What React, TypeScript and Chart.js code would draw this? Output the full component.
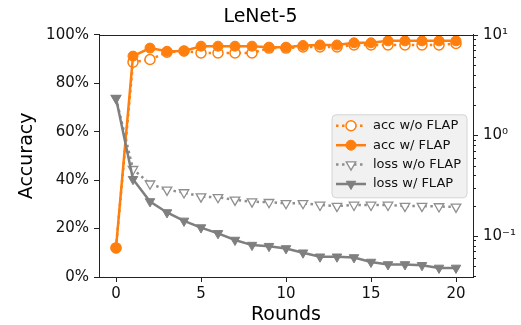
import React, { useEffect, useRef } from 'react';
import { Chart, registerables } from 'chart.js';

Chart.register(...registerables);

const rounds = [0, 1, 2, 3, 4, 5, 6, 7, 8, 9, 10, 11, 12, 13, 14, 15, 16, 17, 18, 19, 20];
const accWithoutFlap = [12, 88.7, 89.8, 92.8, 93.3, 92.5, 92.5, 92.5, 92.5, 94.5, 94.5, 95.0, 95.0, 95.0, 95.8, 95.8, 95.8, 95.8, 95.8, 95.8, 96.4];
const accWithFlap = [12, 91.2, 94.5, 93.2, 93.3, 95.3, 95.3, 95.3, 95.3, 94.9, 94.9, 95.6, 95.8, 95.8, 96.7, 96.7, 97.5, 97.5, 97.5, 97.5, 97.5];
const lossWithoutFlap = [2.34, 0.46, 0.33, 0.287, 0.27, 0.246, 0.242, 0.228, 0.219, 0.216, 0.211, 0.211, 0.203, 0.198, 0.203, 0.203, 0.203, 0.198, 0.198, 0.196, 0.194];
const lossWithFlap = [2.34, 0.366, 0.22, 0.171, 0.141, 0.121, 0.106, 0.091, 0.081, 0.079, 0.075, 0.068, 0.062, 0.062, 0.061, 0.055, 0.052, 0.052, 0.051, 0.048, 0.048];
const seriesLabels = ['acc w/o FLAP', 'acc w/ FLAP', 'loss w/o FLAP', 'loss w/ FLAP'];
const accTicks = [0, 20, 40, 60, 80, 100];
const title = 'LeNet-5';
const xTitle = 'Rounds';
const yTitle = 'Accuracy';

const ORANGE = '#ff7f0e';
const GRAY = '#7f7f7f';
const GRAY_LIGHT = '#8f8f8f';
const FONT = "'DejaVu Sans', sans-serif";
const DOT = [2.5, 3.5];

const sup: Record<string, string> = { '-': '⁻', '0': '⁰', '1': '¹', '2': '²' };

function toPts(vals: number[]) {
  return rounds.map((r, i) => ({ x: r, y: vals[i] }));
}

function drawMarker(ctx: CanvasRenderingContext2D, x: number, y: number, shape: string, r: number, fill: string, stroke: string, lw: number) {
  ctx.beginPath();
  if (shape === 'circle') {
    ctx.arc(x, y, r, 0, Math.PI * 2);
  } else {
    let rad = Math.PI;
    ctx.moveTo(x + Math.sin(rad) * r, y - Math.cos(rad) * r);
    rad += (2 * Math.PI) / 3;
    ctx.lineTo(x + Math.sin(rad) * r, y - Math.cos(rad) * r);
    rad += (2 * Math.PI) / 3;
    ctx.lineTo(x + Math.sin(rad) * r, y - Math.cos(rad) * r);
    ctx.closePath();
  }
  ctx.fillStyle = fill;
  ctx.fill();
  ctx.strokeStyle = stroke;
  ctx.lineWidth = lw;
  ctx.setLineDash([]);
  ctx.stroke();
}

const overlay = {
  id: 'overlay',
  afterDraw(chart: any) {
    const { ctx, chartArea: ca } = chart;
    ctx.save();
    // top spine
    ctx.strokeStyle = '#222';
    ctx.lineWidth = 1;
    ctx.beginPath();
    ctx.moveTo(ca.left, Math.round(ca.top) + 0.5);
    ctx.lineTo(ca.right, Math.round(ca.top) + 0.5);
    ctx.stroke();
    // log axis tick marks (major + minor)
    const ys = chart.scales.y1;
    for (let e = -3; e <= 2; e++) {
      for (let m = 1; m <= 9; m++) {
        const v = m * Math.pow(10, e);
        if (v < ys.min || v > ys.max) continue;
        const py = Math.round(ys.getPixelForValue(v)) + 0.5;
        const len = m === 1 ? 5 : 3;
        ctx.beginPath();
        ctx.moveTo(ca.right, py);
        ctx.lineTo(ca.right + len, py);
        ctx.stroke();
      }
    }
    // legend
    const ds = chart.data.datasets;
    const w = 135, h = 83;
    const x0 = ca.right - 6 - w;
    const y0 = ca.top + 80;
    ctx.beginPath();
    const rr = 4;
    ctx.moveTo(x0 + rr, y0);
    ctx.arcTo(x0 + w, y0, x0 + w, y0 + h, rr);
    ctx.arcTo(x0 + w, y0 + h, x0, y0 + h, rr);
    ctx.arcTo(x0, y0 + h, x0, y0, rr);
    ctx.arcTo(x0, y0, x0 + w, y0, rr);
    ctx.closePath();
    ctx.fillStyle = 'rgba(240,240,240,0.9)';
    ctx.fill();
    ctx.strokeStyle = '#d4d4d4';
    ctx.lineWidth = 1;
    ctx.stroke();
    const order = [0, 1, 2, 3];
    order.forEach((k, i) => {
      const d = ds.find((q: any) => q.label === seriesLabels[k]);
      const cy = y0 + 11 + i * 19.4;
      ctx.beginPath();
      ctx.setLineDash(d.borderDash || []);
      ctx.strokeStyle = d.borderColor;
      ctx.lineWidth = d.borderWidth;
      ctx.moveTo(x0 + 4, cy);
      ctx.lineTo(x0 + 34, cy);
      ctx.stroke();
      ctx.setLineDash([]);
      drawMarker(ctx, x0 + 19, cy, d.pointStyle, d.pointRadius, d.pointBackgroundColor, d.pointBorderColor, d.pointBorderWidth);
      ctx.fillStyle = '#111';
      ctx.font = `13px ${FONT}`;
      ctx.textBaseline = 'middle';
      ctx.textAlign = 'left';
      ctx.fillText(d.label, x0 + 41, cy);
    });
    ctx.restore();
  },
};

export default function App() {
  const ref = useRef<HTMLCanvasElement | null>(null);
  useEffect(() => {
    document.body.style.margin = '0';
    if (!ref.current) return;
    const chart = new Chart(ref.current, {
      type: 'line',
      data: {
        datasets: [
          {
            label: seriesLabels[0],
            data: toPts(accWithoutFlap),
            yAxisID: 'y',
            order: 4,
            borderColor: ORANGE,
            borderWidth: 2.5,
            borderDash: DOT,
            pointStyle: 'circle',
            pointRadius: 5,
            pointBackgroundColor: '#ffffff',
            pointBorderColor: ORANGE,
            pointBorderWidth: 1.5,
            tension: 0,
          },
          {
            label: seriesLabels[1],
            data: toPts(accWithFlap),
            yAxisID: 'y',
            order: 3,
            borderColor: ORANGE,
            borderWidth: 2.5,
            pointStyle: 'circle',
            pointRadius: 5,
            pointBackgroundColor: ORANGE,
            pointBorderColor: ORANGE,
            pointBorderWidth: 1,
            tension: 0,
          },
          {
            label: seriesLabels[2],
            data: toPts(lossWithoutFlap),
            yAxisID: 'y1',
            order: 2,
            borderColor: GRAY_LIGHT,
            borderWidth: 2.5,
            borderDash: DOT,
            pointStyle: 'triangle',
            rotation: 180,
            pointRadius: 5.5,
            pointBackgroundColor: '#ffffff',
            pointBorderColor: GRAY_LIGHT,
            pointBorderWidth: 1.3,
            tension: 0,
          },
          {
            label: seriesLabels[3],
            data: toPts(lossWithFlap),
            yAxisID: 'y1',
            order: 1,
            borderColor: GRAY,
            borderWidth: 2.5,
            pointStyle: 'triangle',
            rotation: 180,
            pointRadius: 5.5,
            pointBackgroundColor: GRAY,
            pointBorderColor: GRAY,
            pointBorderWidth: 1,
            tension: 0,
          },
        ] as any,
      },
      options: {
        responsive: false,
        maintainAspectRatio: false,
        animation: false,
        devicePixelRatio: 1,
        layout: { padding: 0 },
        plugins: {
          legend: { display: false },
          tooltip: { enabled: false },
          title: {
            display: true,
            text: title,
            color: '#000',
            font: { family: FONT, size: 19, weight: 'normal' as any },
            padding: { top: 6, bottom: 6 },
          },
        },
        scales: {
          x: {
            type: 'linear',
            min: -1,
            max: 21,
            afterFit: (s: any) => { s.height = 48; },
            border: { display: true, color: '#222', width: 1 },
            grid: { drawOnChartArea: false, drawTicks: true, tickLength: 5, color: '#222' },
            ticks: {
              stepSize: 5,
              includeBounds: false,
              padding: 3,
              color: '#111',
              font: { family: FONT, size: 15 },
              maxRotation: 0,
            },
            title: {
              display: true,
              text: xTitle,
              color: '#000',
              font: { family: FONT, size: 19, lineHeight: 1 },
              padding: { top: 0, bottom: 0 },
            },
          },
          y: {
            type: 'linear',
            position: 'left',
            min: 0,
            max: 100,
            afterFit: (s: any) => { s.width = 99; },
            afterBuildTicks: (s: any) => { s.ticks = accTicks.map((v) => ({ value: v })); },
            border: { display: true, color: '#222', width: 1 },
            grid: { drawOnChartArea: false, drawTicks: true, tickLength: 5, color: '#222' },
            ticks: {
              padding: 5,
              color: '#111',
              font: { family: FONT, size: 15 },
              callback: (v: any) => `${v}%`,
            },
            title: {
              display: true,
              text: yTitle,
              color: '#000',
              font: { family: FONT, size: 19 },
              padding: { top: 16, bottom: 0 },
            },
          },
          y1: {
            type: 'logarithmic',
            position: 'right',
            min: 0.039,
            max: 10,
            afterFit: (s: any) => { s.width = 48; },
            border: { display: true, color: '#222', width: 1 },
            grid: { drawOnChartArea: false, drawTicks: false },
            ticks: {
              autoSkip: false,
              padding: 10,
              color: '#111',
              font: { family: FONT, size: 15 },
              callback: (v: any) => {
                const lg = Math.log10(Number(v));
                if (Math.abs(lg - Math.round(lg)) > 1e-9) return '';
                const e = String(Math.round(lg));
                return '10' + e.split('').map((c) => sup[c] || c).join('');
              },
            },
          },
        },
      } as any,
      plugins: [overlay],
    });
    return () => chart.destroy();
  }, []);
  return (
    <div style={{ width: 521, height: 325 }}>
      <canvas ref={ref} width={521} height={325} style={{ display: 'block' }} />
    </div>
  );
}
